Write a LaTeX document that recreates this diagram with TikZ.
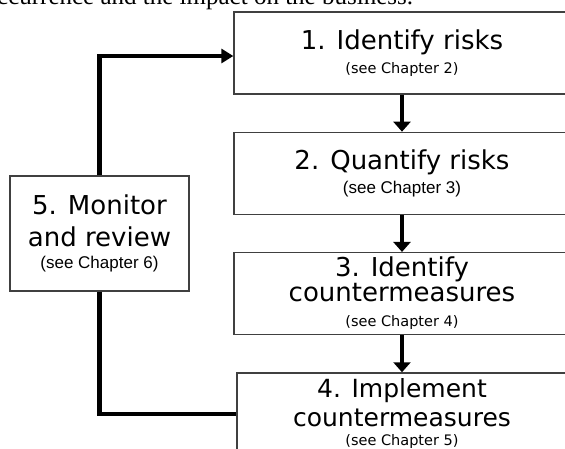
\documentclass[tikz,border=0pt]{standalone}
\usepackage{fontspec}
\usetikzlibrary{positioning,arrows.meta}
\newfontfamily\stepfont{DejaVu Sans}
\newfontfamily\chapfont{Liberation Sans}
\newfontfamily\introfont{Liberation Serif}
\newcommand{\seech}[1]{{\fontsize{14.5}{17}\selectfont (see Chapter #1)}}
\newcommand{\seechar}[1]{{\chapfont\fontsize{17}{20}\selectfont (see Chapter #1)}}

\begin{document}
\begin{tikzpicture}[x=1pt, y=-1pt,
  stepbox/.style={draw=black!75, line width=1.3pt, fill=white, align=center, inner sep=0pt,
    minimum width=336pt, minimum height=82pt, font=\stepfont\fontsize{26}{30}\selectfont},
  stepflow/.style={line width=3.5pt, -{Triangle[length=10pt,width=17pt]}},
  fback/.style={line width=4.5pt}]
\useasboundingbox (0,0) rectangle (565,448);
\node[anchor=base west, inner sep=0pt, font=\introfont\fontsize{25}{28}\selectfont] (intro) at (-3,4.7) {ccurrence and the impact on the business.};
%steps
\node[stepbox] (idrisks) at (402,53) {1. Identify risks\\[-6pt]\seech{2}};
\node[stepbox, below=37pt of idrisks] (quant) {2. Quantify risks\\[-6pt]\seechar{3}};
\node[stepbox, below=37pt of quant] (idcm) {3. Identify\\[-5pt]countermeasures\\[-5pt]\seech{4}};
\node[stepbox, below=37pt of idcm, minimum width=330pt, font=\stepfont\fontsize{25}{29}\selectfont] (implcm) {4. Implement\\countermeasures\\[-10pt]\seech{5}};
\node[stepbox, minimum width=179pt, minimum height=115pt] (monitor) at (99.5,233.5) {5. Monitor\\[2pt]and review\\[-8pt]\seechar{6}};
%arrows
\draw[stepflow] (idrisks) -- (quant);
\draw[stepflow] (quant) -- (idcm);
\draw[stepflow] (idcm) -- (implcm);
%feedback
\draw[fback, -{Triangle[length=12pt,width=14pt]}] (monitor.north) |- ([yshift=-3pt]idrisks.west);
\draw[fback] (monitor.south) |- (implcm.west);
\end{tikzpicture}
\end{document}
